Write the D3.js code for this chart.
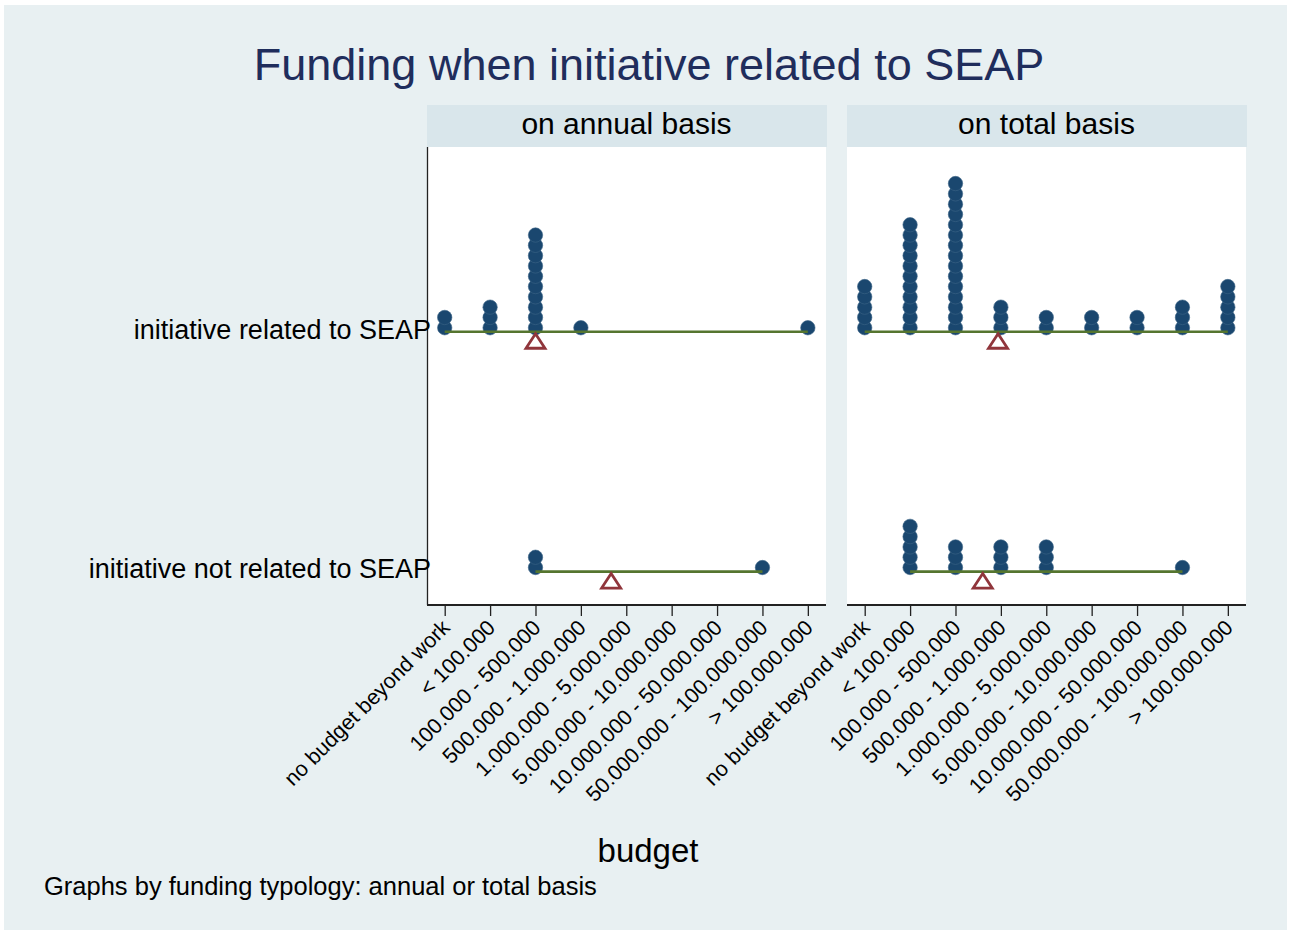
<!DOCTYPE html>
<html>
<head>
<meta charset="utf-8">
<script src="https://cdn.jsdelivr.net/npm/d3@7"></script>
<style>
  html, body { margin: 0; padding: 0; background: #ffffff; }
  svg { display: block; font-family: "Liberation Sans", Arial, sans-serif; }
</style>
</head>
<body>
<svg id="chart" width="1292" height="935"></svg>
<script>
// Budget classes on the x axis (ordered, 1..9)
const categories = [
  "no budget beyond work", "< 100.000", "100.000 - 500.000", "500.000 - 1.000.000",
  "1.000.000 - 5.000.000", "5.000.000 - 10.000.000", "10.000.000 - 50.000.000",
  "50.000.000 - 100.000.000", "> 100.000.000"
];
const rowLabels = ["initiative related to SEAP", "initiative not related to SEAP"];
const panelTitles = ["on annual basis", "on total basis"];

// Number of initiatives in each budget class
const annualRelated    = [2, 3, 10, 1, 0, 0, 0, 0, 1];
const annualNotRelated = [0, 0, 2, 0, 0, 0, 0, 1, 0];
const totalRelated     = [5, 11, 15, 3, 2, 2, 2, 3, 5];
const totalNotRelated  = [0, 5, 3, 3, 3, 0, 0, 1, 0];

const panelData = [
  [annualRelated, annualNotRelated],
  [totalRelated, totalNotRelated]
];

const svg = d3.select("#chart");
const W = 1292, H = 935;

// Background
svg.append("rect").attr("x", 0).attr("y", 0).attr("width", W).attr("height", H).attr("fill", "#ffffff");
svg.append("rect").attr("x", 4).attr("y", 5).attr("width", 1283).attr("height", 925).attr("fill", "#e8f0f2");

// Title
svg.append("text")
  .attr("x", 649).attr("y", 80)
  .attr("text-anchor", "middle")
  .attr("font-size", 45)
  .attr("fill", "#1f2d5c")
  .text("Funding when initiative related to SEAP");

// Layout of the two panels
const panelX = [427, 847];
const panelW = 399;
const plotTop = 147, plotBottom = 605;
const stripTop = 105;

// Row positions (value 1 = related, 0 = not related)
const y = d3.scaleLinear().domain([-0.15, 1.76]).range([plotBottom, plotTop]);
const rowValue = [1, 0];

const dotR = 7.2;
const dotStep = 10.3;

panelTitles.forEach((title, p) => {
  const x0 = panelX[p];
  const x = d3.scaleLinear().domain([0.61, 9.4]).range([x0, x0 + panelW]);

  // Strip header
  svg.append("rect")
    .attr("x", x0).attr("y", stripTop)
    .attr("width", panelW + 1).attr("height", plotTop - stripTop)
    .attr("fill", "#d9e6eb");
  svg.append("text")
    .attr("x", x0 + panelW / 2).attr("y", 134)
    .attr("text-anchor", "middle")
    .attr("font-size", 30)
    .attr("fill", "#000")
    .text(title);

  // Plot region
  svg.append("rect")
    .attr("x", x0).attr("y", plotTop)
    .attr("width", panelW).attr("height", plotBottom - plotTop)
    .attr("fill", "#ffffff");

  const g = svg.append("g");

  panelData[p].forEach((counts, r) => {
    const yRow = y(rowValue[r]);
    // Expand counts into individual observations
    const obs = [];
    counts.forEach((c, i) => { for (let k = 0; k < c; k++) obs.push({ cat: i + 1, k }); });
    const lo = d3.min(obs, d => d.cat), hi = d3.max(obs, d => d.cat);
    const mean = d3.mean(obs, d => d.cat);

    // Stacked dots
    g.selectAll(null).data(obs).enter().append("circle")
      .attr("cx", d => x(d.cat))
      .attr("cy", d => yRow - 1.5 - d.k * dotStep)
      .attr("r", dotR)
      .attr("fill", "#1a476f")
      .attr("stroke", "#3d6487")
      .attr("stroke-width", 0.6);

    // Range line
    g.append("line")
      .attr("x1", x(lo)).attr("x2", x(hi))
      .attr("y1", yRow + 2.5).attr("y2", yRow + 2.5)
      .attr("stroke", "#55752f").attr("stroke-width", 2.7);

    // Mean marker (hollow triangle)
    const mx = x(mean), ty = yRow + 4.5;
    const tri = d3.path();
    tri.moveTo(mx, ty);
    tri.lineTo(mx + 9.5, ty + 14.5);
    tri.lineTo(mx - 9.5, ty + 14.5);
    tri.closePath();
    g.append("path")
      .attr("d", tri.toString())
      .attr("fill", "none")
      .attr("stroke", "#90353b")
      .attr("stroke-width", 2.8)
      .attr("stroke-linejoin", "miter");
  });

  // X axis with rotated category labels
  const xAxis = d3.axisBottom(x)
    .tickValues(d3.range(1, 10))
    .tickSize(11)
    .tickFormat(d => categories[d - 1]);
  const ax = svg.append("g")
    .attr("transform", `translate(0,${plotBottom})`)
    .call(xAxis);
  ax.select(".domain").attr("stroke", "#222").attr("stroke-width", 2)
    .attr("d", `M${x0},0H${x0 + panelW}`);
  ax.selectAll(".tick line").attr("stroke", "#222").attr("stroke-width", 1.3);
  ax.selectAll(".tick text")
    .attr("font-size", 21.5)
    .attr("font-family", "Liberation Sans, Arial, sans-serif")
    .attr("fill", "#000")
    .attr("text-anchor", "end")
    .attr("x", 0).attr("y", 0).attr("dy", "0.72em")
    .attr("transform", "translate(-5,13) rotate(-45)");

  // Y axis only on the first panel
  if (p === 0) {
    svg.append("line")
      .attr("x1", x0 + 0.5).attr("x2", x0 + 0.5)
      .attr("y1", plotTop).attr("y2", plotBottom)
      .attr("stroke", "#222").attr("stroke-width", 1.3);
    rowLabels.forEach((lab, r) => {
      svg.append("text")
        .attr("x", 431).attr("y", y(rowValue[r]))
        .attr("dy", "0.35em")
        .attr("text-anchor", "end")
        .attr("font-size", 27)
        .attr("fill", "#000")
        .text(lab);
    });
  }
});

// Axis title and note
svg.append("text")
  .attr("x", 648).attr("y", 862)
  .attr("text-anchor", "middle")
  .attr("font-size", 33)
  .attr("fill", "#000")
  .text("budget");
svg.append("text")
  .attr("x", 44).attr("y", 895)
  .attr("font-size", 25.5)
  .attr("fill", "#000")
  .text("Graphs by funding typology: annual or total basis");
</script>
</body>
</html>
